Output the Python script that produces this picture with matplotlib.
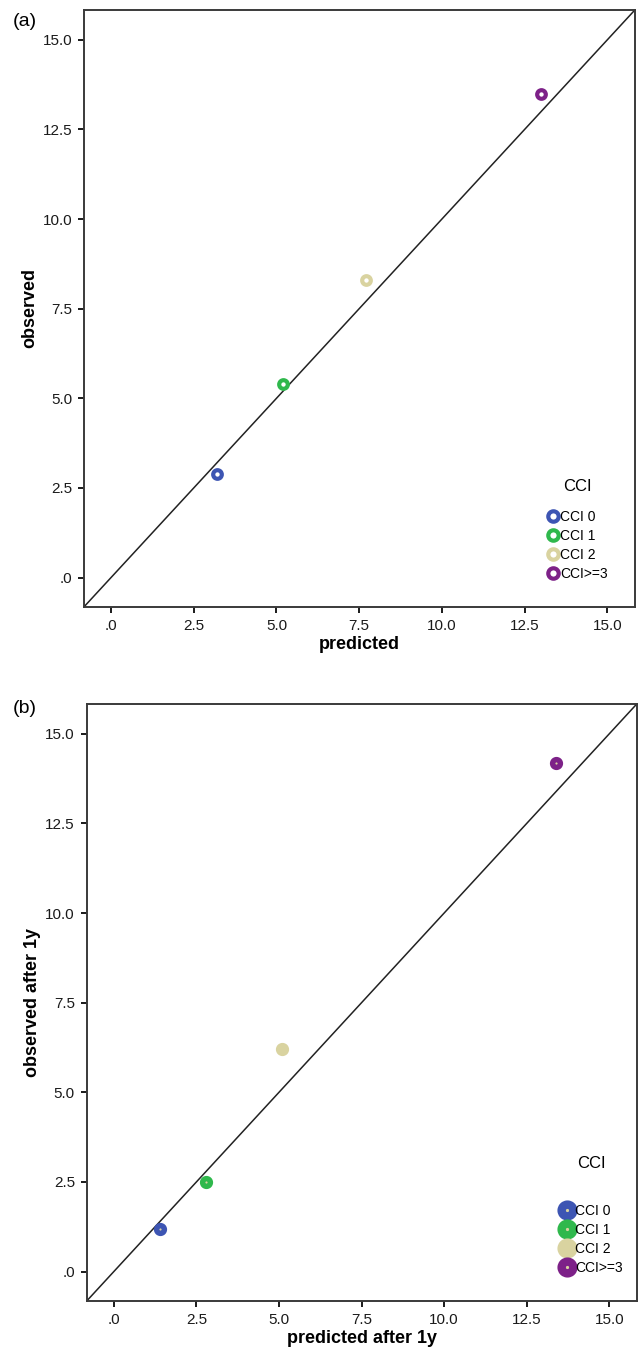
import numpy as np
import matplotlib
matplotlib.use("Agg")
import matplotlib.pyplot as plt
from matplotlib.lines import Line2D
from matplotlib.ticker import FuncFormatter, MultipleLocator

plt.rcParams["font.family"] = ["Liberation Sans", "DejaVu Sans"]

categories = ["CCI 0", "CCI 1", "CCI 2", "CCI>=3"]
colors = ["#3d55b3", "#2fb84c", "#d9d3a0", "#7d2188"]

pred_a = [3.2, 5.2, 7.7, 13.0]
obs_a = [2.9, 5.4, 8.3, 13.5]
pred_b = [1.4, 2.8, 5.1, 13.4]
obs_b = [1.2, 2.5, 6.2, 14.2]

lims = (-0.82, 15.83)
tan = "#d9d3a0"


def spss_fmt(v, pos):
    s = f"{v:.1f}"
    if s.startswith("0."):
        s = s[1:]
    if s == "-0.0":
        s = ".0"
    return s


def style_axes(ax, xlabel, ylabel):
    ax.set_xlim(lims)
    ax.set_ylim(lims)
    ax.axline((0, 0), slope=1, color="#222222", lw=1.1, zorder=1)
    ax.xaxis.set_major_locator(MultipleLocator(2.5))
    ax.yaxis.set_major_locator(MultipleLocator(2.5))
    ax.xaxis.set_major_formatter(FuncFormatter(spss_fmt))
    ax.yaxis.set_major_formatter(FuncFormatter(spss_fmt))
    ax.tick_params(direction="out", length=4.5, width=1.4, labelsize=11,
                   colors="#1a1a1a", pad=4)
    ax.set_xlabel(xlabel, fontsize=13, fontweight="bold", labelpad=2)
    ax.set_ylabel(ylabel, fontsize=13, fontweight="bold", labelpad=3)
    for spine in ax.spines.values():
        spine.set_linewidth(1.4)
        spine.set_edgecolor("#3a3a3a")


fig = plt.figure(figsize=(6.4, 13.65), dpi=100)
ax1 = fig.add_axes([0.131, 0.5553, 0.861, 0.4374])
ax2 = fig.add_axes([0.1355, 0.0469, 0.8593, 0.4373])

# (a) hollow rings
for x, y, c in zip(pred_a, obs_a, colors):
    ax1.plot([x], [y], ls="none", marker="o", ms=6.2, mew=3.0,
             mfc="white", mec=c, zorder=3)
style_axes(ax1, "predicted", "observed")
handles_a = [Line2D([], [], ls="none", marker="o", ms=7.5, mew=3.0,
                    mfc="white", mec=c) for c in colors]
leg = ax1.legend(handles_a, categories, title="CCI", loc="lower right",
                 bbox_to_anchor=(0.966, 0.03), frameon=False, fontsize=10,
                 title_fontsize=12, handlelength=0.8, handletextpad=0.1,
                 labelspacing=0.35, borderaxespad=0.2)
leg._legend_box.sep = 12

# (b) filled dots with tan centre
for x, y, c in zip(pred_b, obs_b, colors):
    ax2.plot([x], [y], ls="none", marker="o", ms=5.6, mew=3.9,
             mfc=tan, mec=c, zorder=3)
style_axes(ax2, "predicted after 1y", "observed after 1y")
handles_b = [Line2D([], [], ls="none", marker="o", ms=8.5, mew=6.0,
                    mfc=tan, mec=c) for c in colors]
leg = ax2.legend(handles_b, categories, title="CCI", loc="lower right",
                 bbox_to_anchor=(0.99, 0.03), frameon=False, fontsize=10,
                 title_fontsize=12, handlelength=1.0, handletextpad=0.1,
                 labelspacing=0.35, borderaxespad=0.2)
leg._legend_box.sep = 24

fig.text(0.02, 0.984, "(a)", fontsize=14, va="center", ha="left")
fig.text(0.02, 0.4813, "(b)", fontsize=14, va="center", ha="left")

fig.savefig("out.png", dpi=100)
